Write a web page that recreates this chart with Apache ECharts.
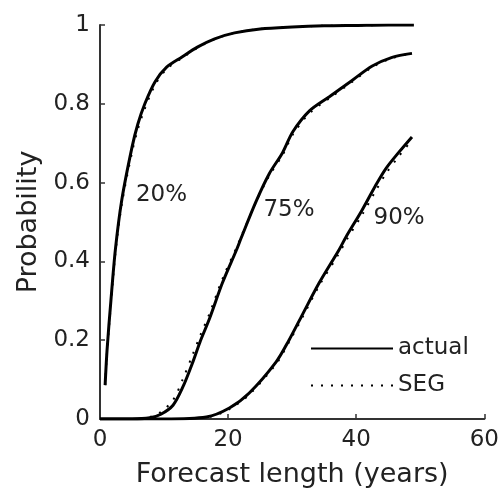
<!DOCTYPE html>
<html>
<head>
<meta charset="utf-8">
<script src="https://cdn.jsdelivr.net/npm/echarts@6/dist/echarts.min.js"></script>
<style>
  html, body { margin: 0; padding: 0; background: #fff; }
  #chart { width: 502px; height: 497px; }
</style>
</head>
<body>
<div id="chart"></div>
<script>
    // forecast length (years) and probability for each threshold curve
    const x20 = [0.8, 1.1, 1.7, 2.4, 3.4, 5.0, 5.9, 7.0, 8.6, 10.4, 12.8, 15.2, 17.9, 21, 25, 30, 35, 40, 45, 49]
    const actual20 = [0.086, 0.175, 0.30, 0.43, 0.556, 0.69, 0.748, 0.80, 0.856, 0.893, 0.919, 0.944, 0.965, 0.98, 0.99, 0.995, 0.998, 0.999, 1.0, 1.0]
    const seg20 = [0.086, 0.17, 0.29, 0.42, 0.545, 0.677, 0.735, 0.788, 0.848, 0.888, 0.916, 0.942, 0.964, 0.98, 0.99, 0.995, 0.998, 0.999, 1.0, 1.0]

    const x75 = [0, 5, 7.8, 9.5, 11.4, 12.9, 14.5, 15.6, 17.1, 19.1, 21.3, 22.0, 24.3, 26.4, 28.5, 30.1, 32.7, 35.8, 39.4, 42.5, 45.6, 48.7]
    const actual75 = [0, 0, 0.003, 0.012, 0.035, 0.08, 0.145, 0.195, 0.255, 0.345, 0.429, 0.458, 0.55, 0.622, 0.676, 0.729, 0.782, 0.818, 0.86, 0.896, 0.918, 0.928]
    const seg75 = [0, 0, 0.005, 0.018, 0.048, 0.1, 0.165, 0.21, 0.268, 0.355, 0.435, 0.462, 0.548, 0.617, 0.67, 0.722, 0.776, 0.814, 0.856, 0.893, 0.916, 0.928]

    const x90 = [0, 10, 16.6, 20.2, 23.3, 27.5, 29.5, 31.6, 34.2, 37.3, 38.4, 40.9, 43.0, 44.6, 46.7, 48.7]
    const actual90 = [0, 0, 0.005, 0.028, 0.066, 0.145, 0.2, 0.265, 0.345, 0.429, 0.462, 0.53, 0.592, 0.635, 0.678, 0.716]
    const seg90 = [0, 0, 0.004, 0.025, 0.062, 0.14, 0.195, 0.258, 0.338, 0.42, 0.452, 0.518, 0.578, 0.622, 0.668, 0.708]

    const curveLabels = [
        {name: '20%', coord: [9.6, 0.569]},
        {name: '75%', coord: [29.5, 0.53]},
        {name: '90%', coord: [46.7, 0.51]}
    ]

    const xTicks = {min: 0, max: 60, interval: 20}
    const yTicks = {min: 0, max: 1, interval: 0.2}

    const pairs = (xs, ys) => xs.map((x, i) => [x, ys[i]])
    const font = 'DejaVu Sans'

    const actualLine = (xs, ys, lab) => ({
        name: 'actual',
        type: 'line',
        data: pairs(xs, ys),
        showSymbol: false,
        symbol: 'none',
        smooth: 0.3,
        z: 3,
        color: '#000',
        itemStyle: {color: '#000'},
        lineStyle: {color: '#000', width: 3},
        markPoint: {
            symbol: 'circle',
            symbolSize: 0,
            silent: true,
            label: {
                show: true,
                position: 'inside',
                formatter: '{b}',
                fontFamily: font,
                fontSize: 23,
                color: '#222'
            },
            data: [lab]
        }
    })

    const segLine = (xs, ys) => ({
        name: 'SEG',
        type: 'line',
        data: pairs(xs, ys),
        showSymbol: false,
        symbol: 'none',
        smooth: 0.3,
        z: 2,
        color: '#000',
        itemStyle: {color: '#000'},
        lineStyle: {color: '#000', width: 2, type: [2, 8]}
    })

    const chart = echarts.init(document.getElementById('chart'), null, {renderer: 'canvas'})

    const options = {
        animation: false,
        backgroundColor: '#fff',
        grid: {left: 100, right: 16, top: 25, bottom: 78},
        legend: {
            data: ['actual', 'SEG'],
            orient: 'vertical',
            left: 305,
            top: 332,
            itemWidth: 82,
            itemHeight: 14,
            itemGap: 14,
            itemStyle: {opacity: 0},
            textStyle: {fontFamily: font, fontSize: 23, color: '#222'}
        },
        xAxis: {
            type: 'value',
            min: xTicks.min,
            max: xTicks.max,
            interval: xTicks.interval,
            name: 'Forecast length (years)',
            nameLocation: 'middle',
            nameGap: 42,
            nameTextStyle: {fontFamily: font, fontSize: 27, color: '#222'},
            axisLine: {show: true, lineStyle: {color: '#333', width: 2}},
            axisTick: {show: true, inside: true, length: 5, lineStyle: {color: '#333', width: 1.5}},
            axisLabel: {fontFamily: font, fontSize: 23, color: '#222', margin: 10},
            splitLine: {show: false}
        },
        yAxis: {
            type: 'value',
            min: yTicks.min,
            max: yTicks.max,
            interval: yTicks.interval,
            name: 'Probability',
            nameLocation: 'middle',
            nameGap: 58,
            nameTextStyle: {fontFamily: font, fontSize: 27, color: '#222'},
            axisLine: {show: true, lineStyle: {color: '#333', width: 2}},
            axisTick: {show: true, inside: true, length: 5, lineStyle: {color: '#333', width: 1.5}},
            axisLabel: {fontFamily: font, fontSize: 23, color: '#222', margin: 10},
            splitLine: {show: false}
        },
        series: [
            segLine(x20, seg20),
            segLine(x75, seg75),
            segLine(x90, seg90),
            actualLine(x20, actual20, curveLabels[0]),
            actualLine(x75, actual75, curveLabels[1]),
            actualLine(x90, actual90, curveLabels[2])
        ]
    }

    chart.setOption(options)
</script>
</body>
</html>
